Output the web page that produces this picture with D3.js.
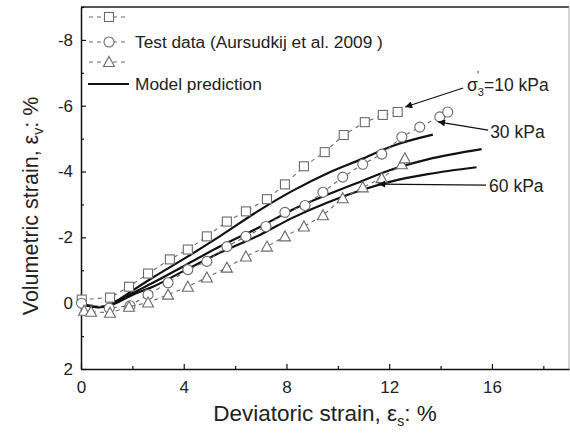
<!DOCTYPE html>
<html>
<head>
<meta charset="utf-8">
<script src="https://cdn.jsdelivr.net/npm/d3@7"></script>
<style>
  body { margin: 0; background: #fff; }
  text { font-family: "Liberation Sans", Arial, sans-serif; }
</style>
</head>
<body>
<div id="chart"></div>
<script>
// tick values
const xMajorTicks = [0, 4, 8, 12, 16];
const xMinorTicks = [2, 6, 10, 14, 18];
const yMajorTicks = [-8, -6, -4, -2, 0, 2];
const yMinorTicks = [-9, -7, -5, -3, -1, 1];

// test data (Aursudkij et al. 2009), [deviatoric strain, volumetric strain]
const test10 = [[0.03,-0.11],[1.13,-0.17],[1.87,-0.5],[2.61,-0.9],[3.46,-1.33],[4.16,-1.63],[4.9,-2.03],[5.68,-2.48],[6.42,-2.79],[7.24,-3.16],[7.94,-3.61],[8.68,-4.16],[9.49,-4.59],[10.23,-5.11],[11.05,-5.5],[11.75,-5.72],[12.33,-5.81]];
const test30 = [[0.02,0.0],[1.1,0.15],[1.91,0.08],[2.61,-0.26],[3.39,-0.62],[4.16,-1.02],[4.9,-1.27],[5.68,-1.72],[6.42,-2.03],[7.2,-2.33],[7.94,-2.76],[8.72,-2.97],[9.42,-3.37],[10.19,-3.83],[10.97,-4.22],[11.71,-4.53],[12.49,-5.05],[13.19,-5.35],[13.97,-5.66],[14.28,-5.81]];
const test60 = [[0.12,0.23],[0.39,0.26],[1.13,0.29],[1.87,0.11],[2.61,-0.02],[3.39,-0.26],[4.16,-0.5],[4.9,-0.78],[5.68,-1.08],[6.42,-1.42],[7.24,-1.72],[7.94,-2.03],[8.68,-2.33],[9.42,-2.67],[10.19,-3.19],[10.97,-3.52],[11.71,-3.8],[12.49,-4.22],[12.61,-4.4]];

// model prediction curves
const model10 = [[0,-0.02],[0.3,0.08],[0.7,0.12],[1.1,0.05],[1.5,-0.12],[2,-0.38],[2.8,-0.78],[4.1,-1.39],[5.4,-2.03],[7,-2.85],[8.25,-3.42],[9.6,-3.95],[10.9,-4.37],[12.1,-4.77],[13.7,-5.12]];
const model30 = [[0,-0.02],[0.3,0.08],[0.7,0.12],[1.1,0.07],[1.5,-0.08],[2,-0.3],[2.8,-0.62],[4.1,-1.17],[5.4,-1.72],[7,-2.33],[8.25,-2.85],[9.6,-3.3],[10.9,-3.7],[12.1,-4.06],[13.5,-4.37],[15.6,-4.68]];
const model60 = [[0,-0.02],[0.3,0.08],[0.7,0.12],[1.1,0.08],[1.5,-0.05],[2,-0.25],[2.8,-0.5],[4.1,-1.02],[5.4,-1.53],[7,-2.09],[8.25,-2.6],[9.6,-3.06],[10.9,-3.43],[12.1,-3.7],[13.5,-3.92],[15.4,-4.13]];

const W = 570, H = 437;
const x = d3.scaleLinear().domain([0, 19]).range([81, 569]);
const y = d3.scaleLinear().domain([-9, 2]).range([7, 369]);

const svg = d3.select("#chart").append("svg")
    .attr("width", W).attr("height", H);

const markerColor = "#6a6a6a";

// frame (top and right)
svg.append("line").attr("x1", x(0)).attr("x2", x(19)).attr("y1", y(-9)).attr("y2", y(-9))
    .attr("stroke", "#555").attr("stroke-width", 2);
svg.append("line").attr("x1", x(19)).attr("x2", x(19)).attr("y1", y(-9)).attr("y2", y(2))
    .attr("stroke", "#aaa").attr("stroke-width", 1);

// axes, ticks pointing inwards
svg.append("g").attr("transform", `translate(0,${y(2)})`)
    .call(d3.axisBottom(x).tickValues(xMajorTicks).tickSizeInner(-5).tickSizeOuter(0)
        .tickPadding(12).tickFormat(d => String(d)));
svg.append("g").attr("transform", `translate(0,${y(2)})`)
    .call(d3.axisBottom(x).tickValues(xMinorTicks).tickSizeInner(-3).tickSizeOuter(0).tickFormat(""))
    .select(".domain").remove();

svg.append("g").attr("transform", `translate(${x(0)},0)`)
    .call(d3.axisLeft(y).tickValues(yMajorTicks).tickSizeInner(-5).tickSizeOuter(0)
        .tickPadding(8).tickFormat(d => String(d)));
svg.append("g").attr("transform", `translate(${x(0)},0)`)
    .call(d3.axisLeft(y).tickValues(yMinorTicks).tickSizeInner(-3).tickSizeOuter(0).tickFormat(""))
    .select(".domain").remove();

svg.selectAll(".domain").attr("stroke", "#111").attr("stroke-width", 1.5);
svg.selectAll(".tick line").attr("stroke", "#111").attr("stroke-width", 1.2);
svg.selectAll(".tick text").attr("font-size", 17).attr("fill", "#222")
    .attr("font-family", "Liberation Sans, Arial, sans-serif");

// axis titles
const xTitle = svg.append("text")
    .attr("x", 325).attr("y", 421)
    .attr("text-anchor", "middle").attr("font-size", 22.5).attr("fill", "#222");
xTitle.append("tspan").text("Deviatoric strain, ε");
xTitle.append("tspan").text("s").attr("font-size", 14).attr("dy", 5);
xTitle.append("tspan").text(": %").attr("dy", -5);

const yTitle = svg.append("text")
    .attr("transform", "translate(38,206) rotate(-90)")
    .attr("text-anchor", "middle").attr("font-size", 21.5).attr("fill", "#222");
yTitle.append("tspan").text("Volumetric strain, ε");
yTitle.append("tspan").text("v").attr("font-size", 14).attr("dy", 5);
yTitle.append("tspan").text(": %").attr("dy", -5);

// test data series
const dashedLine = d3.line().x(d => x(d[0])).y(d => y(d[1]));

function drawMarker(g, shape, cx, cy) {
    if (shape === "square") {
        g.append("rect").attr("x", cx - 4.5).attr("y", cy - 4.5).attr("width", 9).attr("height", 9)
            .attr("fill", "#fff").attr("stroke", markerColor).attr("stroke-width", 1.1);
    } else if (shape === "circle") {
        g.append("circle").attr("cx", cx).attr("cy", cy).attr("r", 5)
            .attr("fill", "#fff").attr("stroke", markerColor).attr("stroke-width", 1.1);
    } else {
        g.append("path").attr("d", `M${cx},${cy - 5.5}L${cx + 5.5},${cy + 4.5}L${cx - 5.5},${cy + 4.5}Z`)
            .attr("fill", "#fff").attr("stroke", markerColor).attr("stroke-width", 1.1);
    }
}

const testSeries = [
    { data: test10, shape: "square" },
    { data: test30, shape: "circle" },
    { data: test60, shape: "triangle" },
];

// model lines first so markers sit above
const modelLine = d3.line().x(d => x(d[0])).y(d => y(d[1])).curve(d3.curveMonotoneX);
[model10, model30, model60].forEach(m => {
    svg.append("path").datum(m).attr("d", modelLine)
        .attr("fill", "none").attr("stroke", "#111").attr("stroke-width", 2.2);
});

testSeries.forEach(s => {
    svg.append("path").datum(s.data).attr("d", dashedLine)
        .attr("fill", "none").attr("stroke", markerColor).attr("stroke-width", 1.1)
        .attr("stroke-dasharray", "4,4");
    const g = svg.append("g");
    s.data.forEach(d => drawMarker(g, s.shape, x(d[0]), y(d[1])));
});

// legend
const legend = svg.append("g");
const legendRows = [17, 42, 62];
testSeries.forEach((s, i) => {
    legend.append("line").attr("x1", 89).attr("x2", 129).attr("y1", legendRows[i]).attr("y2", legendRows[i])
        .attr("stroke", markerColor).attr("stroke-width", 1.1).attr("stroke-dasharray", "4,4");
    drawMarker(legend, s.shape, 109, legendRows[i]);
});
legend.append("text").attr("x", 135).attr("y", 48).attr("font-size", 17.3).attr("fill", "#222")
    .text("Test data (Aursudkij et al. 2009 )");
legend.append("line").attr("x1", 88).attr("x2", 129).attr("y1", 84).attr("y2", 84)
    .attr("stroke", "#111").attr("stroke-width", 2.2);
legend.append("text").attr("x", 135).attr("y", 90).attr("font-size", 17.3).attr("fill", "#222")
    .text("Model prediction");

// annotations with arrows
svg.append("defs").append("marker")
    .attr("id", "arrow").attr("viewBox", "0 0 10 10").attr("refX", 10).attr("refY", 5)
    .attr("markerWidth", 9).attr("markerHeight", 7).attr("markerUnits", "userSpaceOnUse")
    .attr("orient", "auto")
    .append("path").attr("d", "M0,0L10,5L0,10Z").attr("fill", "#111");

const arrows = [
    { from: [14.88, -6.54], to: [12.62, -5.96] },
    { from: [15.85, -5.26], to: [13.9, -5.51] },
    { from: [15.77, -3.59], to: [11.57, -3.62] },
];
arrows.forEach(a => {
    svg.append("line").attr("x1", x(a.from[0])).attr("y1", y(a.from[1]))
        .attr("x2", x(a.to[0])).attr("y2", y(a.to[1]))
        .attr("stroke", "#111").attr("stroke-width", 1.2).attr("marker-end", "url(#arrow)");
});

const lab10 = svg.append("text").attr("x", x(15.03)).attr("y", y(-6.63) + 6)
    .attr("font-size", 17.5).attr("fill", "#222");
lab10.append("tspan").text("σ");
lab10.append("tspan").text("3").attr("font-size", 11).attr("dy", 5);
lab10.append("tspan").text("=10 kPa").attr("dy", -5);
svg.append("text").attr("x", x(15.03) + 10).attr("y", y(-6.63) - 6)
    .attr("font-size", 10).attr("fill", "#222").text("'");

svg.append("text").attr("x", x(15.93)).attr("y", y(-5.2) + 6)
    .attr("font-size", 17.5).attr("fill", "#222").text("30 kPa");
svg.append("text").attr("x", x(15.89)).attr("y", y(-3.56) + 6)
    .attr("font-size", 17.5).attr("fill", "#222").text("60 kPa");
</script>
</body>
</html>
